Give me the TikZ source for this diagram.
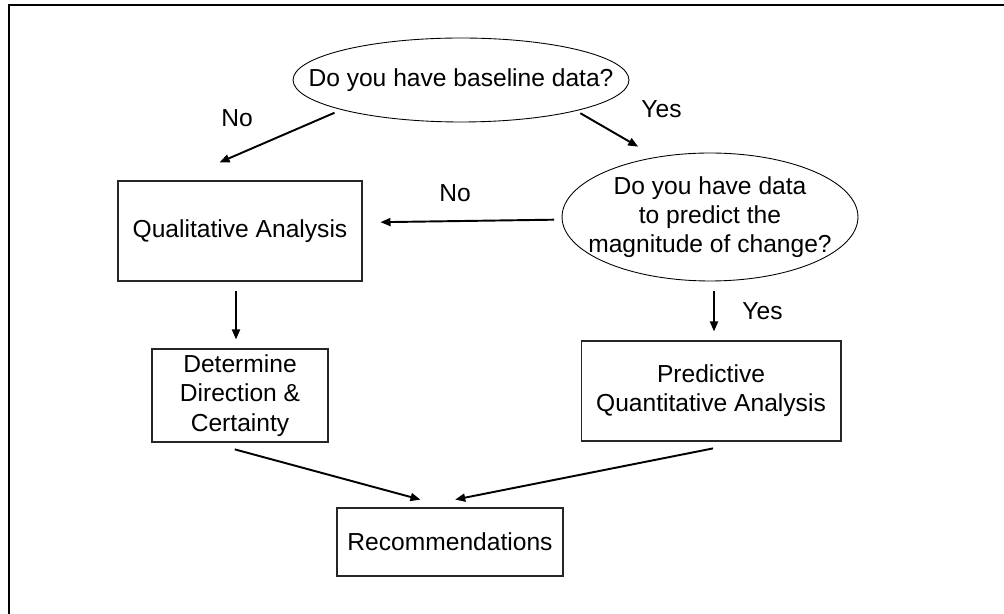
\documentclass[tikz,border=0pt]{standalone}
\usepackage{fontspec}
\setmainfont{Liberation Sans}
\usetikzlibrary{shapes.geometric,arrows.meta}
\begin{document}
\begin{tikzpicture}[x=0.02cm,y=-0.02cm,
  every node/.style={font=\fontsize{14pt}{16.6pt}\selectfont},
  box/.style={draw=black!85, line width=0.6pt, rectangle, inner sep=0pt, align=center},
  oval/.style={draw=black, line width=0.5pt, ellipse, inner xsep=-4cm, inner ysep=-2cm, align=center},
  arr/.style={line width=1.1pt, -{Triangle[length=0.2cm,width=0.16cm]}},
  lbl/.style={anchor=base, inner sep=0pt},
  frameline/.style={line width=1.4pt}]
\useasboundingbox (0,0) rectangle (1004,614);
\draw[frameline] (1004,5) -- (9,5) -- (9,614);

\node[oval, minimum width=6.72cm, minimum height=1.68cm] (e1) at (461,80) {Do you have baseline data?};
\node[oval, minimum width=5.92cm, minimum height=2.56cm] (e2) at (710,217) {Do you have data\\to predict the\\magnitude of change?};
\node[box, minimum width=4.88cm, minimum height=2.0cm] (qual) at (240,231) {Qualitative Analysis};
\node[box, minimum width=3.52cm, minimum height=1.86cm] (det) at (240,395.5) {Determine\\Direction \&\\Certainty};
\node[box, minimum width=5.2cm, minimum height=2.0cm] (pred) at (711,391) {Predictive\\Quantitative Analysis};
\node[box, minimum width=4.52cm, minimum height=1.36cm] (rec) at (450,542) {Recommendations};

\node[lbl] (no1) at (237,127) {No};
\node[lbl] (yes1) at (661.5,118) {Yes};
\node[lbl] (no2) at (455,202) {No};
\node[lbl] (yes2) at (762.5,320) {Yes};

\draw[arr, shorten <=0.148cm, shorten >=0.914cm] (e1.194.4) -- (qual.141);
\draw[arr, shorten <=0.092cm, shorten >=0.412cm] (e1.345.1) -- (e2.132.3);
\draw[arr, shorten <=0.15cm, shorten >=0.36cm] (e2.181.9) -- (qual.4.2);
\draw[arr, shorten <=0.18cm, shorten >=0.18cm] ([xshift=-0.08cm]qual.south) -- ([xshift=-0.08cm]det.north);
\draw[arr, shorten <=0.2cm, shorten >=0.18cm] ([xshift=0.08cm]e2.south) -- ([xshift=0.06cm]pred.north);
\draw[arr, shorten <=0.524cm, shorten >=0.6cm] (det.237.8) -- (rec.91.9);
\draw[arr, shorten <=0.708cm, shorten >=0.81cm] (pred.306.3) -- (rec.135.6);
\end{tikzpicture}
\end{document}
